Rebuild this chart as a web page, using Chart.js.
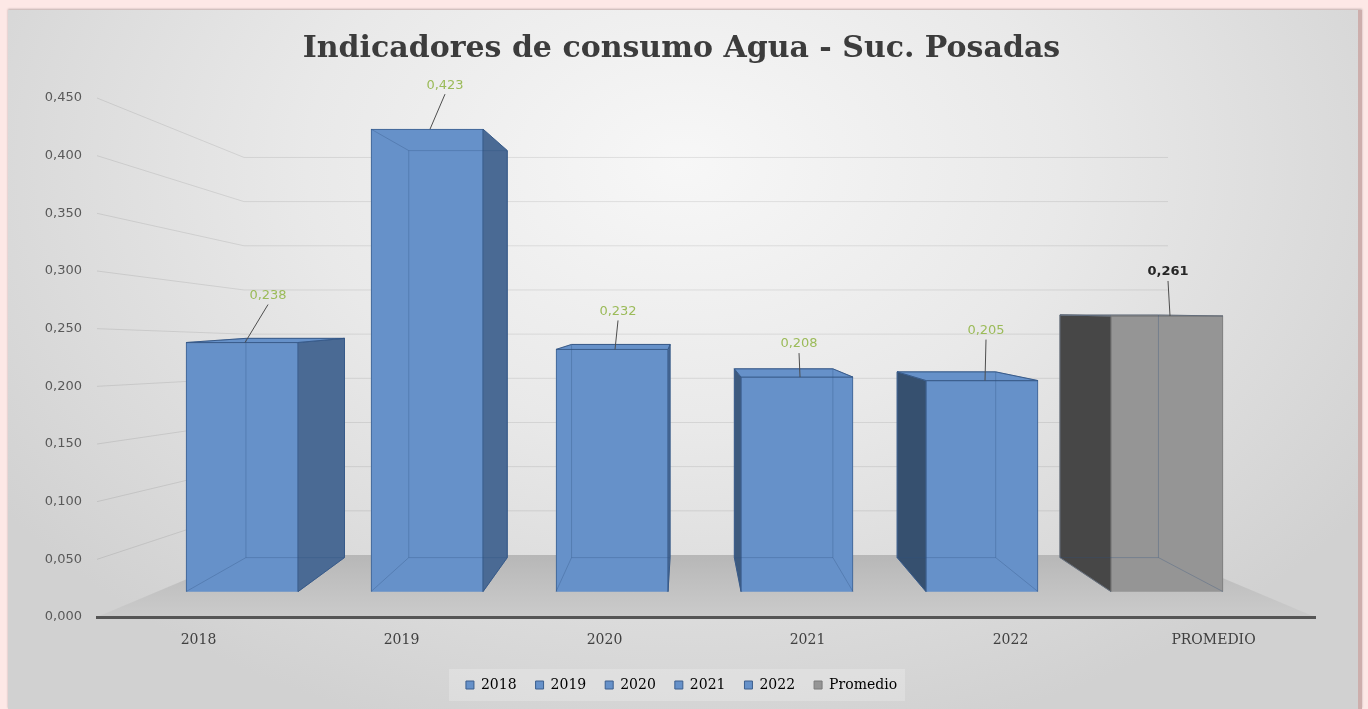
<!DOCTYPE html>
<html>
<head>
<meta charset="utf-8">
<title>Indicadores de consumo Agua - Suc. Posadas</title>
<script src="https://cdn.jsdelivr.net/npm/chart.js@4"></script>
<style>
  body { margin: 0; background: #fde8e6; }
  #panel {
    position: absolute; left: 8px; top: 10px; width: 1350px; height: 699px;
    background: radial-gradient(ellipse 62% 85% at 50% 22%, #f7f7f7 0%, #e9e9e9 45%, #d1d1d1 100%);
    box-shadow: 0 -1px 2px rgba(0,0,0,0.25);
    border-right: 4px solid #cdaeac;
  }
</style>
</head>
<body>
<div id="panel"><canvas id="agua" width="1350" height="699"></canvas></div>
<script>
// consumo de agua por año y promedio
const categories = ["2018", "2019", "2020", "2021", "2022", "PROMEDIO"];
const seriesNames = ["2018", "2019", "2020", "2021", "2022", "Promedio"];
const values = [0.238, 0.423, 0.232, 0.208, 0.205, 0.261];
const yMax = 0.45;
const yStep = 0.05;

// estilos de las cajas 3D
const faceColors = ["#6691c9", "#6691c9", "#6691c9", "#6691c9", "#6691c9", "#959595"];
const edgeColors = ["#3c5f8e", "#3c5f8e", "#3c5f8e", "#3c5f8e", "#3c5f8e", "#7a7a7a"];
const sideColors = ["#4a6a94", "#4a6a94", "#4a6a94", "#3d5a7e", "#36506f", "#474747"];
const labelColors = ["#9bbb59", "#9bbb59", "#9bbb59", "#9bbb59", "#9bbb59", "#262626"];
const labelShift = [[26, -47], [18, -44], [6, -38], [2, -33], [4, -50], [1, -44]];
const depth = 0.12;       // profundidad de las cajas hacia el punto de fuga
const wallInset = 147;    // retroceso del piso
const floorRise = 62;
const wallScale = 0.766;

const fmt = v => v.toFixed(3).replace('.', ',');

function vanishingPoint(chart) {
  const a = chart.chartArea;
  return { x: a.left + (a.right - a.left) * 0.483, y: chart.scales.y.getPixelForValue(0.268) };
}

function boxCorners(chart, bar) {
  const p = bar.getProps(['x', 'y', 'base', 'width'], true);
  const vp = vanishingPoint(chart);
  const l = p.x - p.width / 2, r = p.x + p.width / 2;
  const back = (px, py) => [px + depth * (vp.x - px), py + depth * (vp.y - py)];
  return {
    vp, l, r, top: p.y, base: p.base, cx: p.x,
    btl: back(l, p.y), btr: back(r, p.y), bbl: back(l, p.base), bbr: back(r, p.base)
  };
}

function poly(ctx, pts) {
  ctx.beginPath();
  ctx.moveTo(pts[0][0], pts[0][1]);
  for (let i = 1; i < pts.length; i++) ctx.lineTo(pts[i][0], pts[i][1]);
  ctx.closePath();
}

const scene3d = {
  id: 'scene3d',
  beforeDraw(chart) {
    const ctx = chart.ctx, a = chart.chartArea, y = chart.scales.y;
    const y0 = y.getPixelForValue(0);
    const bl = a.left + wallInset, br = a.right - wallInset, yb0 = y0 - floorRise;
    ctx.save();

    // fondo claro de la leyenda
    const boxes = chart.legend.legendHitBoxes || [];
    if (boxes.length) {
      const left = Math.min(...boxes.map(b => b.left)) - 17;
      const right = Math.max(...boxes.map(b => b.left + b.width)) + 8;
      const top = Math.min(...boxes.map(b => b.top)) - 9;
      const bottom = Math.max(...boxes.map(b => b.top + b.height)) + 9;
      ctx.fillStyle = 'rgba(255,255,255,0.22)';
      ctx.fillRect(left, top, right - left, bottom - top);
    }

    // piso
    const g = ctx.createLinearGradient(0, yb0, 0, y0);
    g.addColorStop(0, '#b7b7b7');
    g.addColorStop(1, '#cbcbcb');
    ctx.fillStyle = g;
    poly(ctx, [[a.left, y0], [bl, yb0], [br, yb0], [a.right, y0]]);
    ctx.fill();

    // pared lateral y de fondo
    ctx.strokeStyle = 'rgba(0,0,0,0.09)';
    ctx.lineWidth = 1;
    y.ticks.forEach(t => {
      if (t.value <= 0) return;
      const yf = y.getPixelForValue(t.value);
      const yw = yb0 + (yf - y0) * wallScale;
      ctx.beginPath();
      ctx.moveTo(a.left, yf);
      ctx.lineTo(bl, yw);
      ctx.lineTo(br, yw);
      ctx.stroke();
    });
    ctx.restore();
  },
  beforeDatasetsDraw(chart) {
    const ctx = chart.ctx;
    ctx.save();
    chart.getDatasetMeta(0).data.forEach((bar, i) => {
      const c = boxCorners(chart, bar);
      ctx.fillStyle = sideColors[i];
      ctx.strokeStyle = edgeColors[i];
      ctx.lineWidth = 1;
      if (c.r < c.vp.x) {
        poly(ctx, [[c.r, c.top], [c.r, c.base], c.bbr, c.btr]);
        ctx.fill(); ctx.stroke();
      }
      if (c.l > c.vp.x) {
        poly(ctx, [[c.l, c.top], [c.l, c.base], c.bbl, c.btl]);
        ctx.fill(); ctx.stroke();
      }
      if (c.top > c.vp.y) {
        ctx.fillStyle = faceColors[i];
        poly(ctx, [[c.l, c.top], [c.r, c.top], c.btr, c.btl]);
        ctx.fill(); ctx.stroke();
      }
    });
    ctx.restore();
  },
  afterDatasetsDraw(chart) {
    const ctx = chart.ctx;
    ctx.save();
    chart.getDatasetMeta(0).data.forEach((bar, i) => {
      const c = boxCorners(chart, bar);
      // aristas traseras vistas a través de la cara frontal
      ctx.strokeStyle = 'rgba(45,80,125,0.3)';
      ctx.lineWidth = 1;
      poly(ctx, [c.btl, c.btr, c.bbr, c.bbl]);
      ctx.stroke();
      ctx.beginPath();
      ctx.moveTo(c.l, c.base); ctx.lineTo(c.bbl[0], c.bbl[1]);
      ctx.moveTo(c.r, c.base); ctx.lineTo(c.bbr[0], c.bbr[1]);
      ctx.moveTo(c.l, c.top); ctx.lineTo(c.btl[0], c.btl[1]);
      ctx.moveTo(c.r, c.top); ctx.lineTo(c.btr[0], c.btr[1]);
      ctx.stroke();

      // etiqueta con línea guía
      const lx = c.cx + labelShift[i][0], ly = c.top + labelShift[i][1];
      ctx.strokeStyle = '#4d4d4d';
      ctx.beginPath();
      ctx.moveTo(c.cx + 3, c.top);
      ctx.lineTo(lx, ly + 9);
      ctx.stroke();
      ctx.font = (i === values.length - 1 ? 'bold ' : '') + '13px "DejaVu Sans"';
      ctx.fillStyle = labelColors[i];
      ctx.textAlign = 'center';
      ctx.textBaseline = 'middle';
      ctx.fillText(fmt(values[i]), lx, ly);
    });
    ctx.restore();
  }
};

new Chart(document.getElementById('agua'), {
  type: 'bar',
  data: {
    labels: categories,
    datasets: [{
      label: 'Consumo',
      data: values.map((v, i) => ({ x: i, y: v })),
      xAxisID: 'xb',
      base: 0.022,
      barThickness: 112,
      backgroundColor: faceColors,
      borderColor: edgeColors,
      borderWidth: 1
    }]
  },
  options: {
    responsive: false,
    animation: false,
    devicePixelRatio: 1,
    events: [],
    layout: { padding: { left: 0, right: 3, top: 0, bottom: 7 } },
    scales: {
      x: {
        type: 'category',
        offset: true,
        grid: { display: false, drawTicks: false },
        border: { display: true, color: '#555555', width: 3, z: 1 },
        ticks: { color: '#404040', padding: 15, font: { family: 'DejaVu Serif', size: 14 } },
        afterFit: s => { s.height = 42; }
      },
      xb: {
        type: 'linear',
        display: false,
        offset: false,
        min: -0.784,
        max: 5.8
      },
      y: {
        min: 0,
        max: yMax,
        grid: { display: false, drawTicks: false },
        border: { display: false },
        ticks: { stepSize: yStep, padding: 15, color: '#595959', callback: v => fmt(v),
                 font: { family: 'DejaVu Sans', size: 13 } },
        afterFit: s => { s.width = 89; }
      },
      // margen derecho vacío, simétrico al eje de valores
      yr: {
        position: 'right',
        grid: { display: false, drawTicks: false },
        border: { display: false },
        ticks: { display: false },
        afterFit: s => { s.width = 40; }
      }
    },
    plugins: {
      title: {
        display: true,
        text: 'Indicadores de consumo Agua - Suc. Posadas',
        color: '#3c3c3c',
        font: { family: 'DejaVu Serif', size: 30, weight: 'bold' },
        padding: { top: 21, bottom: 31 }
      },
      legend: {
        position: 'bottom',
        labels: {
          boxWidth: 8,
          boxHeight: 8,
          padding: 19,
          color: '#404040',
          font: { family: 'DejaVu Serif', size: 14 },
          generateLabels: () => seriesNames.map((name, i) => ({
            text: name,
            fillStyle: faceColors[i],
            strokeStyle: edgeColors[i],
            lineWidth: 1,
            hidden: false,
            index: i
          }))
        }
      },
      tooltip: { enabled: false }
    }
  },
  plugins: [scene3d]
});
</script>
</body>
</html>
